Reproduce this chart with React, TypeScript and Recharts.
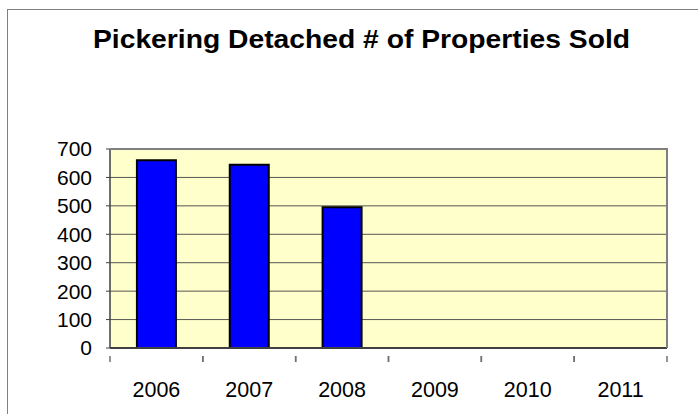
import React from "react"
import { Bar, BarChart, XAxis, YAxis, CartesianGrid } from "recharts"

const years = ["2006", "2007", "2008", "2009", "2010", "2011"]
const sold: (number | null)[] = [660, 645, 495, null, null, null]
const yTicks = [0, 100, 200, 300, 400, 500, 600, 700]

const data = years.map((y, i) => ({ name: y, sold: sold[i] }))

const FONT = "'Liberation Sans', Arial, sans-serif"
const PLOT_LEFT = 110
const PLOT_RIGHT = 667
const BAND = (PLOT_RIGHT - PLOT_LEFT) / years.length

// x ticks sit on the category boundaries, labels in the middle
function YearTick(props: any) {
    const { x, y, payload } = props
    return (
        <g>
            <line x1={x - BAND / 2} y1={y} x2={x - BAND / 2} y2={y + 6} stroke="#707070" strokeWidth={1.5} />
            <line x1={x + BAND / 2} y1={y} x2={x + BAND / 2} y2={y + 6} stroke="#707070" strokeWidth={1.5} />
            <text x={x} y={y + 41} textAnchor="middle" fill="#000" fontSize={21.5} fontFamily={FONT}>
                {payload.value}
            </text>
        </g>
    )
}

export default function App() {
    return (
        <div style={{ position: "absolute", left: 0, top: 0, width: 698, height: 414, background: "#fff", overflow: "hidden" }}>
            <div style={{ position: "absolute", left: 7, top: 9, width: 720, height: 440, border: "1px solid #808080" }} />
            <svg style={{ position: "absolute", left: 0, top: 0 }} width={698} height={70}>
                <text x={93} y={48} fontFamily={FONT} fontWeight="bold" fontSize={25.5} fill="#000"
                    textLength={537} lengthAdjust="spacingAndGlyphs">
                    Pickering Detached # of Properties Sold
                </text>
            </svg>
            <div style={{ position: "absolute", left: 0, top: 0 }}>
                <BarChart
                    width={698}
                    height={414}
                    data={data}
                    margin={{ top: 149, right: 698 - PLOT_RIGHT, left: 0, bottom: 0 }}
                    barCategoryGap="29%"
                >
                    <CartesianGrid
                        vertical={false}
                        horizontal
                        stroke="#555"
                        strokeWidth={1}
                        fill="#FFFFCC"
                        fillOpacity={1}
                    />
                    <XAxis
                        dataKey="name"
                        height={414 - 149 - 199}
                        axisLine={{ stroke: "#404040", strokeWidth: 2 }}
                        tickLine={false}
                        tick={<YearTick />}
                        interval={0}
                    />
                    <YAxis
                        width={PLOT_LEFT}
                        domain={[0, 700]}
                        ticks={yTicks}
                        interval={0}
                        axisLine={{ stroke: "#404040", strokeWidth: 1.5 }}
                        tickLine={{ stroke: "#404040" }}
                        tickSize={4}
                        tickMargin={14}
                        tick={{ fill: "#000", fontSize: 21, fontFamily: FONT }}
                    />
                    <Bar dataKey="sold" fill="#0000FF" stroke="#000" strokeWidth={2} isAnimationActive={false} />
                </BarChart>
            </div>
            <svg style={{ position: "absolute", left: 0, top: 0, pointerEvents: "none" }} width={698} height={414}>
                <polyline points={`${PLOT_LEFT},149 ${PLOT_RIGHT},149 ${PLOT_RIGHT},348`} fill="none" stroke="#808080" strokeWidth={2} />
            </svg>
        </div>
    )
}
